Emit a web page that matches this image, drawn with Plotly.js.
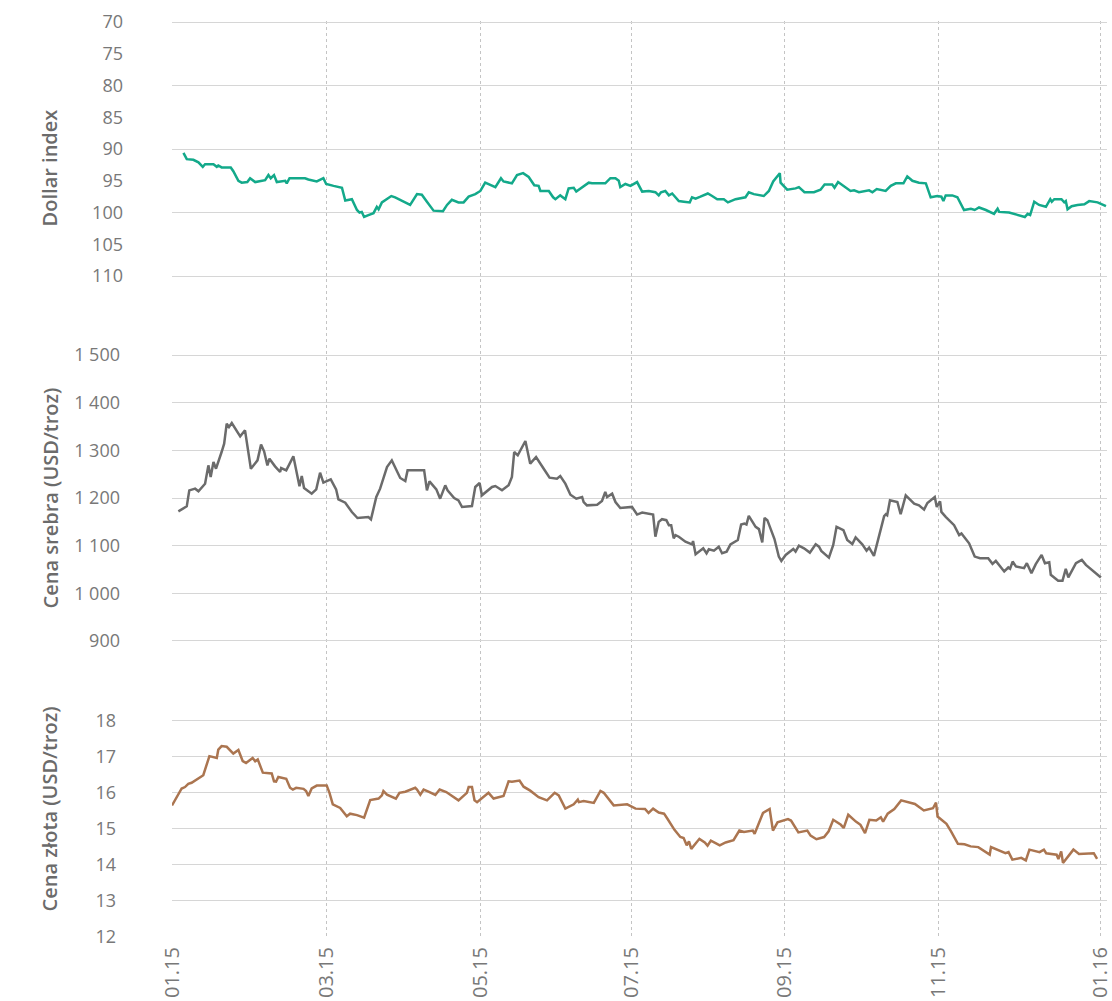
<!DOCTYPE html>
<html>
<head>
<meta charset="utf-8">
<script src="https://cdn.plot.ly/plotly-3.0.1.min.js"></script>
<style>
  body { margin: 0; background: #fff; }
  #chart { width: 1112px; height: 1001px; }
</style>
</head>
<body>
<div id="chart"></div>
<script>
// x = days since 01.01.2015; tick positions
var monthDays = [0, 60.6, 121.2, 180.6, 240.8, 301.3, 365];
var monthLabels = ['01.15', '03.15', '05.15', '07.15', '09.15', '11.15', '01.16'];

var dollarTicks = [70, 75, 80, 85, 90, 95, 100, 105, 110];
var dollarGrid = [70, 80, 90, 100, 110];
var srebraTicks = [900, 1000, 1100, 1200, 1300, 1400, 1500];
var zlotaTicks = [12, 13, 14, 15, 16, 17, 18];

// [day, value]
var dollarIndex = [[4.5,90.6],[5.8,91.6],[8.4,91.7],[10.4,92.1],[12.1,92.8],[13.0,92.4],[16.3,92.4],[17.6,92.8],[18.2,92.6],[19.5,92.9],
  [23.1,92.9],[24.1,93.5],[26.1,95.0],[27.4,95.3],[29.6,95.2],[30.7,94.6],[32.7,95.2],[34.6,95.1],[36.6,94.9],[37.9,94.1],
  [38.8,94.6],[40.1,94.1],[41.2,95.2],[44.5,95.0],[45.1,95.4],[46.2,94.6],[52.3,94.6],[53.6,94.8],[56.9,95.1],[59.5,94.6],
  [60.6,95.5],[63.5,95.8],[66.8,96.1],[68.1,98.1],[70.7,97.9],[72.7,99.6],[73.7,100.0],[74.6,99.9],[75.5,100.7],[77.2,100.4],
  [79.2,100.1],[80.5,99.1],[81.2,99.5],[82.5,98.4],[84.5,97.8],[86.2,97.4],[87.7,97.6],[88.6,97.8],[91.0,98.3],[93.6,98.8],
  [96.3,97.1],[98.2,97.2],[100.2,98.3],[102.8,99.7],[106.5,99.8],[108.1,98.8],[110.0,98.0],[112.6,98.4],[114.6,98.4],[116.6,97.5],
  [119.2,97.1],[121.2,96.6],[123.1,95.3],[125.1,95.7],[127.1,96.0],[129.3,94.6],[130.3,95.1],[133.6,95.4],[135.6,94.1],[138.0,93.8],
  [140.2,94.4],[142.4,95.7],[144.1,95.8],[144.8,96.6],[148.1,96.6],[149.8,97.6],[150.7,97.9],[152.6,97.3],[154.6,97.9],[155.9,96.2],
  [157.9,96.1],[158.9,96.7],[161.2,96.0],[163.8,95.3],[165.1,95.4],[170.3,95.4],[172.3,94.6],[174.3,94.6],[175.6,95.0],[176.2,96.0],
  [178.2,95.5],[180.2,95.8],[182.8,95.2],[184.8,96.7],[187.4,96.6],[190.0,96.8],[191.3,97.3],[192.2,96.8],[193.9,96.6],[195.3,97.3],
  [196.6,97.0],[199.2,98.2],[201.2,98.3],[203.5,98.4],[204.4,97.6],[205.8,97.8],[207.7,97.5],[210.6,97.0],[212.3,97.4],[214.3,97.9],
  [216.9,97.9],[218.5,98.4],[221.5,97.9],[225.4,97.6],[226.7,96.8],[228.7,97.1],[232.6,97.4],[234.6,96.6],[236.3,95.1],[238.9,93.8],
  [239.2,95.3],[241.8,96.4],[245.1,96.2],[246.4,96.0],[248.6,96.8],[252.3,96.8],[254.9,96.4],[256.5,95.6],[259.5,95.6],[260.4,96.1],
  [261.8,95.2],[264.1,95.8],[266.7,96.6],[268.1,96.5],[270.0,96.8],[274.0,96.5],[275.3,96.8],[277.0,96.3],[280.5,96.6],[282.5,95.8],
  [284.5,95.4],[287.5,95.4],[289.0,94.3],[291.0,95.0],[293.6,95.3],[296.3,95.4],[298.2,97.6],[300.8,97.4],[302.4,97.5],[303.2,98.2],
  [304.1,97.3],[306.7,97.3],[308.7,97.6],[311.3,99.6],[314.0,99.4],[315.5,99.6],[317.2,99.2],[319.9,99.6],[323.1,100.2],[324.5,99.4],
  [325.1,99.9],[329.0,100.0],[332.3,100.4],[335.2,100.7],[336.3,100.2],[337.3,100.4],[338.9,98.3],[340.8,98.8],[343.5,99.1],[345.2,97.9],
  [345.8,98.3],[346.8,97.9],[349.6,97.9],[350.7,98.4],[351.3,98.2],[352.0,99.5],[353.6,99.0],[355.9,98.8],[358.6,98.7],[360.5,98.2],
  [363.8,98.4],[367.1,99.0]];

var cenaSrebra = [[2.5,1172],[5.8,1182.5],[6.8,1216],[9.1,1219.6],[10.4,1214],[13.0,1230],[14.3,1268.5],[15.2,1244],[16.3,1275.5],[17.3,1261.5],
  [19.5,1296.5],[20.5,1314],[21.5,1356],[22.4,1349],[23.5,1357.3],[26.8,1329.4],[28.7,1342],[31.0,1261.5],[33.6,1279],[35.0,1312],
  [36.2,1298],[37.5,1268.5],[38.3,1282.5],[40.5,1266.4],[42.5,1254.5],[42.9,1262.9],[44.9,1258],[47.7,1287.4],[50.1,1224.5],[51.0,1246.2],
  [51.9,1221],[54.9,1209.1],[56.7,1218.2],[58.2,1253.1],[59.5,1232.2],[62.4,1239.2],[64.5,1218.2],[65.4,1197.2],[68.1,1190.2],[70.7,1170.6],
  [72.9,1158],[77.2,1160.1],[78.2,1155.2],[80.3,1202.1],[81.8,1219.6],[84.5,1265],[86.4,1279],[89.7,1242],[91.7,1235.7],[92.6,1258],
  [99.1,1258],[100.2,1216.1],[101.2,1235],[103.9,1218.2],[105.4,1198.6],[107.4,1226.6],[108.3,1216.1],[110.9,1200],[112.6,1195.1],[114.0,1181.1],
  [117.9,1183.2],[119.2,1223.1],[120.9,1231.5],[121.8,1205.6],[125.8,1223.1],[127.1,1225.2],[129.7,1216.1],[132.3,1226.6],[133.6,1244.1],[134.5,1296.5],
  [135.9,1289.5],[138.9,1319.6],[140.8,1272],[143.1,1286],[146.1,1261.5],[148.4,1242.7],[151.3,1240.6],[152.6,1246.2],[154.6,1230.1],[156.6,1207],
  [158.9,1198.6],[161.2,1202.1],[161.8,1191.6],[163.1,1184.6],[167.1,1186],[169.0,1193.7],[170.3,1212.6],[171.0,1202.1],[173.0,1209.1],[174.3,1191.6],
  [176.2,1179],[178.2,1180],[180.8,1181.3],[182.8,1165.3],[184.8,1169.4],[189.1,1165.3],[190.0,1118.8],[191.3,1150],[192.6,1155.6],[194.3,1153.5],
  [195.3,1143.1],[196.2,1143.1],[197.2,1115.3],[197.9,1122.2],[199.2,1118.8],[201.8,1108.3],[204.4,1102.8],[204.8,1109.7],[205.8,1081.9],[208.8,1094.4],
  [210.1,1084],[211.0,1092.4],[213.0,1089.6],[214.9,1097.9],[216.2,1084],[218.0,1087.5],[219.5,1102.8],[222.4,1111.8],[223.7,1144.4],[225.0,1146.5],
  [225.8,1144.4],[226.7,1162.5],[229.4,1139.6],[230.7,1134.7],[232.0,1106.9],[232.9,1158.3],[234.0,1153.5],[236.8,1113.9],[238.5,1077.1],[239.5,1068.1],
  [241.2,1080.6],[244.2,1093.1],[245.1,1087.5],[246.4,1100],[248.4,1094.4],[250.7,1085.4],[253.0,1102.8],[254.3,1097.9],[255.2,1088.9],[258.2,1075],
  [259.9,1101.4],[261.2,1139.6],[263.9,1132.6],[265.4,1111.8],[267.4,1103.5],[268.7,1117.4],[271.3,1102.8],[273.0,1089.6],[274.0,1095.8],[275.9,1078.5],
  [279.9,1161.8],[280.6,1166],[281.1,1163.9],[282.2,1195.1],[285.1,1191.7],[286.4,1166],[288.4,1205.6],[291.7,1188.2],[293.6,1184.7],[295.6,1175.7],
  [296.9,1189.6],[299.8,1202.1],[300.6,1181.3],[301.9,1193.1],[302.4,1170.8],[304.1,1160.4],[307.4,1143.1],[309.4,1122.2],[310.3,1125.7],[313.3,1104.9],
  [315.5,1077.1],[317.6,1073.6],[320.8,1073.6],[322.5,1061.8],[323.8,1068.1],[327.1,1045.8],[328.7,1054.2],[329.4,1051.4],[330.4,1066.7],[331.7,1056.3],
  [334.9,1052.8],[336.0,1063.2],[337.8,1042.4],[339.5,1061.1],[341.8,1080.6],[343.1,1063.2],[344.8,1065.3],[345.4,1038.9],[348.3,1026.4],[350.0,1026.4],
  [351.3,1051.4],[352.3,1033.3],[355.3,1063.2],[357.6,1070.1],[359.2,1059.7],[365.1,1033.3]];

var cenaZlota = [[0,15.65],[3.8,16.12],[5.1,16.16],[6.4,16.25],[7.7,16.28],[12.3,16.49],[14.7,17.02],[17.6,16.97],[18.2,17.2],[19.5,17.3],
  [21.5,17.28],[24.1,17.09],[26.1,17.19],[27.8,16.88],[29.1,16.83],[31.7,16.97],[32.7,16.88],[33.7,16.93],[35.7,16.56],[39.2,16.54],
  [40.1,16.32],[40.9,16.31],[41.8,16.44],[44.9,16.39],[46.4,16.14],[47.5,16.09],[48.8,16.14],[51.7,16.11],[52.7,16.05],[53.6,15.91],
  [54.9,16.12],[56.9,16.2],[60.8,16.2],[61.9,16.0],[63.2,15.68],[66.1,15.58],[68.7,15.35],[70.0,15.42],[72.7,15.38],[75.5,15.31],
  [77.9,15.8],[81.2,15.84],[82.5,15.93],[83.1,16.05],[84.5,15.95],[88.0,15.84],[89.4,16.0],[91.7,16.03],[95.6,16.14],[96.3,16.09],
  [97.6,15.95],[98.9,16.09],[100.8,16.03],[103.5,15.94],[105.2,16.09],[107.8,16.02],[112.6,15.79],[115.9,16.0],[116.6,16.16],[117.9,16.16],
  [118.9,15.79],[119.9,15.74],[124.4,16.0],[126.4,15.84],[130.3,15.91],[132.3,16.32],[133.6,16.31],[136.6,16.34],[138.2,16.17],[140.8,16.06],
  [144.1,15.88],[147.4,15.79],[150.4,16.0],[152.0,15.93],[154.6,15.56],[157.9,15.68],[159.5,15.81],[159.9,15.74],[161.8,15.77],[165.8,15.72],
  [168.4,16.05],[169.7,16.0],[173.6,15.65],[178.9,15.68],[182.2,15.56],[185.9,15.55],[187.3,15.44],[189.1,15.56],[191.3,15.45],[193.4,15.42],
  [194.8,15.27],[197.5,14.97],[199.8,14.77],[201.1,14.74],[202.3,14.54],[203.2,14.65],[204.1,14.44],[207.3,14.72],[209.4,14.62],[210.5,14.53],
  [211.8,14.67],[213.5,14.6],[215.3,14.54],[217.6,14.62],[220.7,14.68],[223.0,14.95],[224.8,14.91],[228.3,14.95],[229.0,14.86],[232.3,15.44],
  [234.9,15.55],[236.2,14.95],[238.0,15.18],[242.1,15.27],[243.3,15.23],[246.2,14.9],[249.7,14.95],[251.0,14.81],[253.3,14.71],[256.3,14.77],
  [258.1,14.93],[259.9,15.25],[262.9,15.11],[264.0,15.02],[265.8,15.39],[268.8,15.2],[270.6,15.11],[272.4,14.88],[274.1,15.25],[276.8,15.23],
  [278.6,15.32],[279.5,15.2],[281.3,15.42],[283.9,15.55],[286.6,15.79],[292.0,15.69],[295.5,15.51],[299.1,15.57],[300.3,15.73],[300.9,15.34],
  [304.4,15.14],[306.2,14.93],[308.9,14.58],[311.5,14.57],[313.9,14.51],[316.9,14.49],[321.4,14.28],[321.9,14.49],[324.9,14.4],[327.6,14.32],
  [328.8,14.35],[330.3,14.14],[333.8,14.19],[335.6,14.12],[337.0,14.42],[341.0,14.35],[342.7,14.42],[343.6,14.32],[347.7,14.28],[348.4,14.16],
  [349.5,14.37],[350.2,14.05],[354.3,14.42],[356.5,14.3],[362.3,14.32],[363.6,14.16]];

function line(series, yaxis, color) {
    return {
        type: 'scatter',
        mode: 'lines',
        x: series.map(function (p) { return p[0]; }),
        y: series.map(function (p) { return p[1]; }),
        xaxis: 'x',
        yaxis: yaxis,
        line: { color: color, width: 2.5 },
        hoverinfo: 'skip'
    };
}

var data = [
    line(dollarIndex, 'y', '#13a98a'),
    line(cenaSrebra, 'y2', '#6b6b6b'),
    line(cenaZlota, 'y3', '#ab7550'),
    // empty trace so the label axis of the top panel gets drawn
    { type: 'scatter', mode: 'lines', x: [], y: [], xaxis: 'x', yaxis: 'y4', hoverinfo: 'skip' }
];

var gridCol = '#d6d6d6';
var titleFont = { family: 'Open Sans', size: 20, color: '#6b6b6b', weight: 600 };

var layout = {
    width: 1112,
    height: 1001,
    margin: { l: 172, r: 5, t: 21, b: 64 },
    paper_bgcolor: '#ffffff',
    plot_bgcolor: '#ffffff',
    font: { family: 'Open Sans', size: 18, color: '#787878' },
    separators: ', ',
    showlegend: false,
    xaxis: {
        anchor: 'y3',
        range: [0, 367.5],
        tickmode: 'array',
        tickvals: monthDays,
        ticktext: monthLabels,
        tickangle: -90,
        tickfont: { size: 20 },
        ticklabelstandoff: 5,
        ticklabeloverflow: 'allow',
        showgrid: true,
        gridcolor: '#c4c4c4',
        griddash: 'dot',
        zeroline: false,
        showline: false,
        ticks: ''
    },
    yaxis: {
        domain: [0.679, 1],
        anchor: 'x',
        range: [116.14, 69.84],
        tickmode: 'array',
        tickvals: dollarGrid,
        showticklabels: false,
        gridcolor: gridCol,
        zeroline: false,
        ticks: ''
    },
    yaxis4: {
        overlaying: 'y',
        anchor: 'x',
        side: 'left',
        range: [116.14, 69.84],
        tickmode: 'array',
        tickvals: dollarTicks,
        showgrid: false,
        zeroline: false,
        ticks: '',
        ticklabelstandoff: 48,
        title: { text: 'Dollar index', standoff: 29, font: titleFont }
    },
    yaxis2: {
        domain: [0.2795, 0.679],
        anchor: 'x',
        range: [816.1, 1583.9],
        tickmode: 'array',
        tickvals: srebraTicks,
        separatethousands: true,
        gridcolor: gridCol,
        zeroline: false,
        ticks: '',
        ticklabelstandoff: 51,
        title: { text: 'Cena srebra (USD/troz)', standoff: 10, font: titleFont }
    },
    yaxis3: {
        domain: [0, 0.2795],
        anchor: 'x',
        range: [11.99, 19.11],
        tickmode: 'array',
        tickvals: zlotaTicks,
        gridcolor: gridCol,
        zeroline: false,
        ticks: '',
        ticklabelstandoff: 55,
        title: { text: 'Cena złota (USD/troz)', standoff: 32, font: titleFont }
    }
};

Plotly.newPlot('chart', data, layout, { displayModeBar: false, staticPlot: true });
</script>
</body>
</html>
